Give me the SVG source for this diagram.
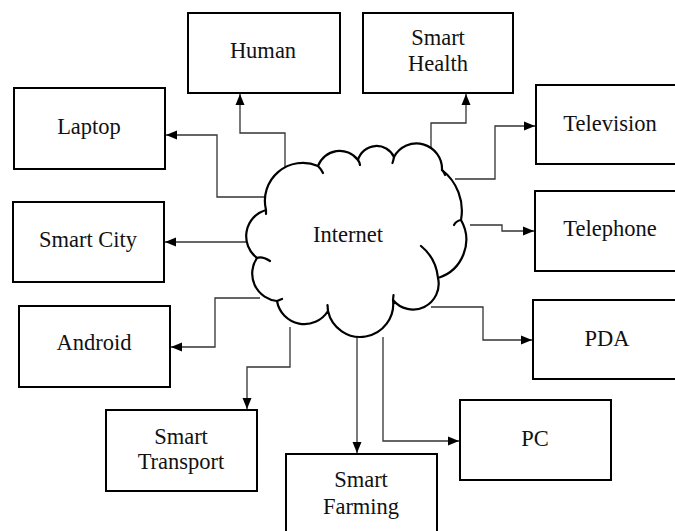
<svg xmlns="http://www.w3.org/2000/svg" width="675" height="531" viewBox="0 0 675 531" font-family="'Liberation Serif','Times New Roman',serif">
<defs>
<style>
.box{fill:#fff;stroke:#000;stroke-width:2}
.lbl{font-family:"Liberation Serif","Times New Roman",serif;font-size:22.5px;fill:#111;text-anchor:middle}
.con{fill:none;stroke:#333;stroke-width:1.3}
.cloud{fill:#fff;stroke:#000;stroke-width:2.2;stroke-linejoin:round}
.tail{fill:none;stroke:#000;stroke-width:2.2;stroke-linecap:round}
</style>
<marker id="arr" markerUnits="userSpaceOnUse" markerWidth="12" markerHeight="10" refX="11" refY="5" orient="auto">
<path d="M0,0.5 L11,5 L0,9.5 z" fill="#000"/>
</marker>
</defs>
<rect width="675" height="531" fill="#fff"/>
<g id="connectors">
<path class="con" d="M285,173 V133 H240 V94" marker-end="url(#arr)"/>
<path class="con" d="M431,148 V123 H466 V94" marker-end="url(#arr)"/>
<path class="con" d="M267,197 H217 V135 H166" marker-end="url(#arr)"/>
<path class="con" d="M246,242 H165" marker-end="url(#arr)"/>
<path class="con" d="M260,298 H215 V347 H171" marker-end="url(#arr)"/>
<path class="con" d="M290,327 V367 H247 V409" marker-end="url(#arr)"/>
<path class="con" d="M357,337 V453" marker-end="url(#arr)"/>
<path class="con" d="M383,337 V441 H459" marker-end="url(#arr)"/>
<path class="con" d="M431,307 H483 V340 H532" marker-end="url(#arr)"/>
<path class="con" d="M455,179 H495 V126 H535" marker-end="url(#arr)"/>
<path class="con" d="M470,225 H502 V231 H534" marker-end="url(#arr)"/>
</g>
<g id="internet">
<path class="cloud" d="M266,210 A38,38 0 0 1 318,166 A23,23 0 0 1 358,160 A19.3,19.3 0 0 1 394,157 A25.5,25.5 0 0 1 442,170 A51.5,51.5 0 0 1 461,220 A40,40 0 0 1 438,278 A25.7,25.7 0 0 1 393,300 A33,33 0 0 1 328,311 A27.8,27.8 0 0 1 277,301 A27.6,27.6 0 0 1 257,258 A27.3,27.3 0 0 1 266,210 Z"/>
<path class="tail" d="M318,166 q3,3 5,7 M358,160 q1.5,2 2,5 M394,157 q-0.5,3 -1.5,6 M442,170 q2,2 3,5 M461,220 Q456,221 454,225 M421,246 Q436,258 438,278 M393,300 l0.5,-5 M328,311 l-0.5,-6 M277,301 L282,299 M257,258 Q262,256 270,261 M266,210 l0,4"/>
<text class="lbl" x="348" y="242">Internet</text>
</g>
<g id="human"><rect class="box" x="188" y="13" width="152" height="80"/><text class="lbl" x="263" y="58">Human</text></g>
<g id="smart-health"><rect class="box" x="363" y="13" width="150" height="80"/><text class="lbl" x="438" y="45">Smart</text><text class="lbl" x="438" y="71">Health</text></g>
<g id="laptop"><rect class="box" x="14" y="88" width="151" height="81"/><text class="lbl" x="89" y="134">Laptop</text></g>
<g id="smart-city"><rect class="box" x="13" y="202" width="151" height="80"/><text class="lbl" x="88" y="247">Smart City</text></g>
<g id="android"><rect class="box" x="19" y="306" width="151" height="81"/><text class="lbl" x="94" y="350">Android</text></g>
<g id="smart-transport"><rect class="box" x="106" y="410" width="151" height="81"/><text class="lbl" x="181" y="444">Smart</text><text class="lbl" x="181" y="469">Transport</text></g>
<g id="smart-farming"><rect class="box" x="286" y="454" width="151" height="90"/><text class="lbl" x="361" y="487">Smart</text><text class="lbl" x="361" y="514">Farming</text></g>
<g id="pc"><rect class="box" x="460" y="400" width="151" height="80"/><text class="lbl" x="535" y="446">PC</text></g>
<g id="pda"><rect class="box" x="533" y="300" width="160" height="79"/><text class="lbl" x="607" y="346">PDA</text></g>
<g id="telephone"><rect class="box" x="535" y="191" width="160" height="80"/><text class="lbl" x="610" y="236">Telephone</text></g>
<g id="television"><rect class="box" x="536" y="85" width="160" height="79"/><text class="lbl" x="610" y="131">Television</text></g>
</svg>
